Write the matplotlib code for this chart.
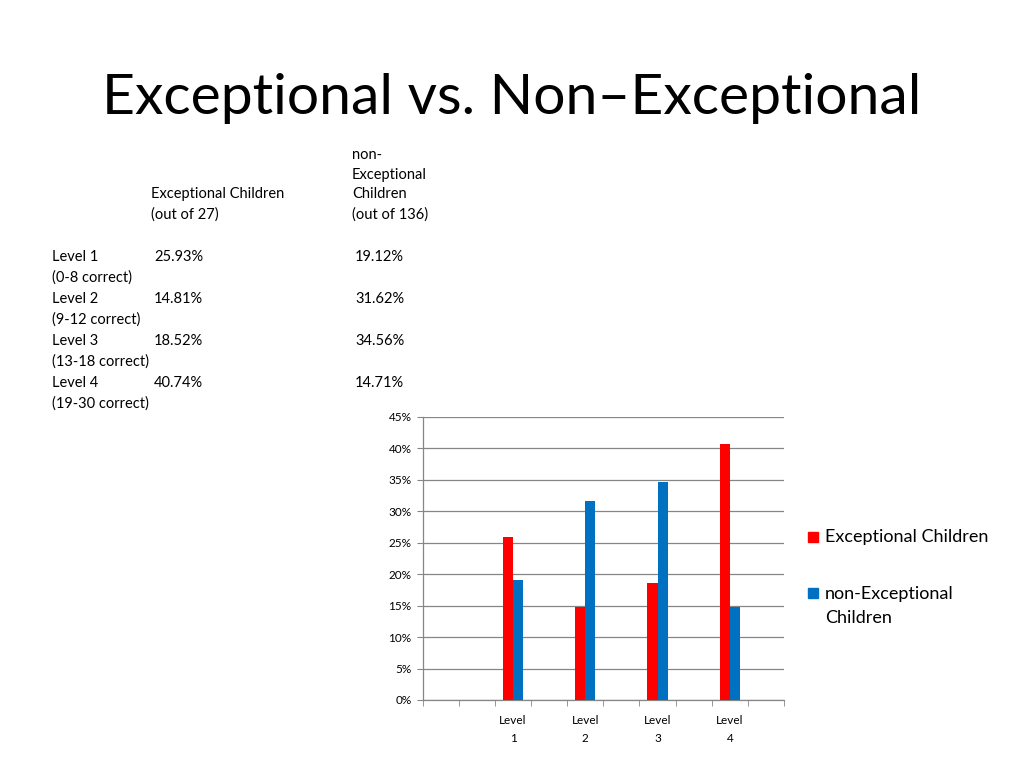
import numpy as np
import matplotlib
matplotlib.use("Agg")
import matplotlib.pyplot as plt
from matplotlib.patches import Rectangle
from matplotlib.ticker import PercentFormatter

plt.rcParams['font.family'] = ['Lato', 'DejaVu Sans']

# ---- data ----
title = "Exceptional vs. Non\u2013Exceptional"
series_names = ["Exceptional Children", "non-Exceptional\nChildren"]
# chart categories (blank slots come from the blank rows of the source table)
categories = ["", "", "Level\n1", "", "Level\n2", "", "Level\n3", "", "Level\n4", ""]
exceptional = [np.nan, np.nan, 25.93, np.nan, 14.81, np.nan, 18.52, np.nan, 40.74, np.nan]
non_exceptional = [np.nan, np.nan, 19.12, np.nan, 31.62, np.nan, 34.56, np.nan, 14.71, np.nan]
yticks = [0, 5, 10, 15, 20, 25, 30, 35, 40, 45]

table_levels = ["Level 1", "Level 2", "Level 3", "Level 4"]
table_ranges = ["(0-8 correct)", "(9-12 correct)", "(13-18 correct)", "(19-30 correct)"]
table_exc = ["25.93%", "14.81%", "18.52%", "40.74%"]
table_non = ["19.12%", "31.62%", "34.56%", "14.71%"]

RED = "#FF0000"
BLUE = "#0070C0"

fig = plt.figure(figsize=(10.24, 7.68), dpi=100)
W, H = 1024, 768

def fx(px):
    return px / W

def fy(py):
    return 1 - py / H

# title
fig.text(0.5, fy(98), title, ha="center", va="center", fontsize=41, color="black")

# table text
ts = 10.5
fig.text(fx(151), fy(194), "Exceptional Children", fontsize=ts, va="center")
fig.text(fx(151), fy(215), "(out of 27)", fontsize=ts, va="center")
fig.text(fx(352), fy(155), "non-", fontsize=ts, va="center")
fig.text(fx(352), fy(175), "Exceptional", fontsize=ts, va="center")
fig.text(fx(352), fy(194), "Children", fontsize=ts, va="center")
fig.text(fx(352), fy(215), "(out of 136)", fontsize=ts, va="center")
row0 = 257
step = 42
for i in range(4):
    y = row0 + i * step
    fig.text(fx(52), fy(y), table_levels[i], fontsize=ts, va="center")
    fig.text(fx(52), fy(y + 21), table_ranges[i], fontsize=ts, va="center")
    fig.text(fx(154), fy(y), table_exc[i], fontsize=ts, va="center")
    fig.text(fx(355), fy(y), table_non[i], fontsize=ts, va="center")

# chart
ax = fig.add_axes([fx(422.7), fy(700), fx(784) - fx(422.7), (700 - 416.7) / H])
x = np.arange(len(categories))
bw = 0.28
ax.bar(x - bw / 2, exceptional, width=bw, color=RED, zorder=3)
ax.bar(x + bw / 2, non_exceptional, width=bw, color=BLUE, zorder=3)
ax.set_xlim(-0.5, len(categories) - 0.5)
ax.set_ylim(0, 45)
ax.set_yticks(yticks)
ax.yaxis.set_major_formatter(PercentFormatter(decimals=0))
ax.set_xticks(x)
ax.set_xticklabels(categories, fontsize=8.5, linespacing=1.7)
ax.set_xticks(np.arange(-0.5, len(categories), 1.0), minor=True)
ax.tick_params(axis="x", which="major", length=0, pad=11)
ax.tick_params(axis="x", which="minor", length=4, color="#868686", direction="out")
ax.tick_params(axis="y", length=4, color="#868686", labelsize=8.5, pad=4)
ax.grid(axis="y", color="#868686", linewidth=0.9, zorder=0)
for s in ["top", "right"]:
    ax.spines[s].set_visible(False)
for s in ["left", "bottom"]:
    ax.spines[s].set_color("#868686")
    ax.spines[s].set_linewidth(0.9)

# legend (manual, to match layout)
ls = 13
fig.patches.append(Rectangle((fx(808), fy(542)), 10 / W, 10 / H,
                             transform=fig.transFigure, color=RED))
fig.text(fx(825), fy(537), series_names[0], fontsize=ls, va="center")
fig.patches.append(Rectangle((fx(808), fy(598)), 10 / W, 10 / H,
                             transform=fig.transFigure, color=BLUE))
fig.text(fx(825), fy(586), series_names[1], fontsize=ls, va="top", linespacing=1.6)

fig.savefig("out.png", dpi=100)
